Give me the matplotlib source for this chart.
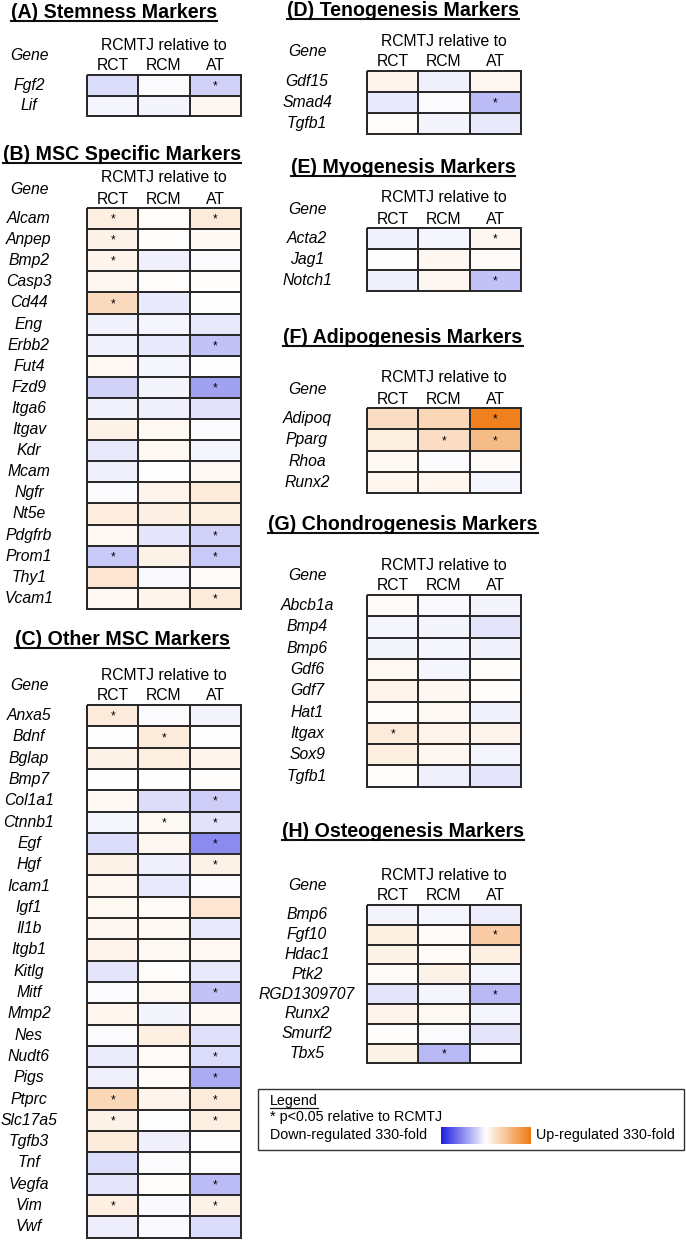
import numpy as np
import matplotlib
matplotlib.use('Agg')
import matplotlib.pyplot as plt
from matplotlib.colors import LinearSegmentedColormap
from matplotlib.patches import Rectangle
from matplotlib.lines import Line2D

plt.rcParams['font.family'] = ['Liberation Sans', 'DejaVu Sans']

W, H = 686, 1241   # 图像像素尺寸
cols = ['RCT', 'RCM', 'AT']

# 数值: -1 = 下调330倍, +1 = 上调330倍 (按颜色估计)
# (A) Stemness
stem_genes = ['Fgf2', 'Lif']
stem_vals = [[-0.16, -0.02, -0.2], [-0.04, -0.05, 0.06]]
stem_sig = [[0, 0, 1], [0, 0, 0]]

# (B) MSC specific
msc_genes = ['Alcam', 'Anpep', 'Bmp2', 'Casp3', 'Cd44', 'Eng', 'Erbb2', 'Fut4', 'Fzd9', 'Itga6',
             'Itgav', 'Kdr', 'Mcam', 'Ngfr', 'Nt5e', 'Pdgfrb', 'Prom1', 'Thy1', 'Vcam1']
msc_vals = [[0.12, 0.02, 0.15], [0.1, 0.01, 0.04], [0.08, -0.07, -0.02], [0.06, 0.01, 0.01],
            [0.28, -0.1, 0.0], [-0.06, -0.04, -0.1], [-0.06, -0.1, -0.27], [0.04, -0.04, 0.0],
            [-0.2, -0.05, -0.42], [-0.06, -0.07, -0.13], [0.1, 0.05, -0.02], [-0.1, 0.05, -0.04],
            [-0.07, 0.0, 0.05], [-0.01, 0.08, 0.15], [0.13, 0.11, 0.12], [0.05, -0.12, -0.2],
            [-0.24, 0.1, -0.24], [0.18, -0.03, 0.03], [0.05, 0.08, 0.15]]
msc_sig = [[1, 0, 1], [1, 0, 0], [1, 0, 0], [0, 0, 0], [1, 0, 0], [0, 0, 0], [0, 0, 1], [0, 0, 0],
           [0, 0, 1], [0, 0, 0], [0, 0, 0], [0, 0, 0], [0, 0, 0], [0, 0, 0], [0, 0, 0], [0, 0, 1],
           [1, 0, 1], [0, 0, 0], [0, 0, 1]]

# (C) Other MSC
oth_genes = ['Anxa5', 'Bdnf', 'Bglap', 'Bmp7', 'Col1a1', 'Ctnnb1', 'Egf', 'Hgf', 'Icam1', 'Igf1',
             'Il1b', 'Itgb1', 'Kitlg', 'Mitf', 'Mmp2', 'Nes', 'Nudt6', 'Pigs', 'Ptprc', 'Slc17a5',
             'Tgfb3', 'Tnf', 'Vegfa', 'Vim', 'Vwf']
oth_vals = [[0.15, -0.02, -0.05], [0.0, 0.15, 0.0], [0.1, 0.12, 0.08], [0.0, 0.0, 0.01],
            [0.04, -0.15, -0.22], [-0.04, 0.05, -0.13], [-0.16, 0.06, -0.52], [0.1, -0.07, 0.1],
            [0.06, -0.1, -0.02], [0.05, 0.03, 0.18], [0.06, 0.05, -0.1], [0.08, 0.05, 0.05],
            [-0.12, 0.01, -0.1], [-0.02, 0.05, -0.27], [0.07, -0.05, 0.04], [-0.02, 0.12, -0.14],
            [-0.09, 0.03, -0.16], [-0.07, 0.03, -0.38], [0.3, 0.08, 0.15], [0.1, 0.0, 0.12],
            [0.15, -0.07, 0.0], [-0.16, -0.02, 0.0], [-0.12, 0.02, -0.3], [0.12, -0.03, 0.1],
            [-0.08, -0.03, -0.16]]
oth_sig = [[1, 0, 0], [0, 1, 0], [0, 0, 0], [0, 0, 0], [0, 0, 1], [0, 1, 1], [0, 0, 1], [0, 0, 1],
           [0, 0, 0], [0, 0, 0], [0, 0, 0], [0, 0, 0], [0, 0, 0], [0, 0, 1], [0, 0, 0], [0, 0, 0],
           [0, 0, 1], [0, 0, 1], [1, 0, 1], [1, 0, 1], [0, 0, 0], [0, 0, 0], [0, 0, 1], [1, 0, 1],
           [0, 0, 0]]

# (D) Tenogenesis
ten_genes = ['Gdf15', 'Smad4', 'Tgfb1']
ten_vals = [[0.08, -0.07, 0.06], [-0.1, -0.02, -0.3], [0.02, -0.05, -0.1]]
ten_sig = [[0, 0, 0], [0, 0, 1], [0, 0, 0]]

# (E) Myogenesis
myo_genes = ['Acta2', 'Jag1', 'Notch1']
myo_vals = [[-0.06, -0.04, 0.06], [0.0, 0.06, 0.03], [-0.07, 0.06, -0.27]]
myo_sig = [[0, 0, 1], [0, 0, 0], [0, 0, 1]]

# (F) Adipogenesis
adi_genes = ['Adipoq', 'Pparg', 'Rhoa', 'Runx2']
adi_vals = [[0.25, 0.3, 0.95], [0.12, 0.25, 0.5], [0.05, -0.02, 0.03], [0.07, 0.07, -0.04]]
adi_sig = [[0, 0, 1], [0, 1, 1], [0, 0, 0], [0, 0, 0]]

# (G) Chondrogenesis
cho_genes = ['Abcb1a', 'Bmp4', 'Bmp6', 'Gdf6', 'Gdf7', 'Hat1', 'Itgax', 'Sox9', 'Tgfb1']
cho_vals = [[0.03, -0.03, -0.05], [-0.04, -0.05, -0.12], [-0.05, -0.04, -0.06], [0.05, -0.04, 0.02],
            [0.08, 0.06, 0.02], [0.02, 0.05, -0.06], [0.15, 0.08, 0.08], [0.12, 0.06, -0.04],
            [0.02, -0.07, -0.12]]
cho_sig = [[0, 0, 0], [0, 0, 0], [0, 0, 0], [0, 0, 0], [0, 0, 0], [0, 0, 0], [1, 0, 0], [0, 0, 0],
           [0, 0, 0]]

# (H) Osteogenesis
ost_genes = ['Bmp6', 'Fgf10', 'Hdac1', 'Ptk2', 'RGD1309707', 'Runx2', 'Smurf2', 'Tbx5']
ost_vals = [[-0.05, -0.04, -0.08], [0.12, 0.03, 0.38], [0.1, 0.03, 0.12], [0.03, 0.1, -0.04],
            [-0.12, -0.04, -0.32], [0.08, 0.05, -0.04], [0.01, -0.02, -0.12], [0.1, -0.32, 0.0]]
ost_sig = [[0, 0, 0], [0, 0, 1], [0, 0, 0], [0, 0, 0], [0, 0, 1], [0, 0, 0], [0, 0, 0], [0, 1, 0]]

cmap = LinearSegmentedColormap.from_list('bwo', ['#1f1fe0', '#ffffff', '#ee7a12'])

fig = plt.figure(figsize=(6.86, 12.41), dpi=100)
titles = []


def panel(gx, gy, rh, lab_cx, title, tcx, tby, genes, vals, sig, cw=51.3):
    n = len(genes)
    ax = fig.add_axes([gx / W, 1 - (gy + n * rh) / H, 3 * cw / W, n * rh / H])
    ax.pcolormesh(np.array(vals), cmap=cmap, vmin=-1, vmax=1,
                  edgecolors='#2a2a2a', linewidth=1.2, clip_on=False)
    ax.set_xlim(0, 3)
    ax.set_ylim(n, 0)
    ax.axis('off')
    lx = -(gx - lab_cx) / cw
    for i, g in enumerate(genes):
        ax.text(lx, i + 0.5, g, style='italic', ha='center', va='center', fontsize=11.3)
        for j in range(3):
            if sig[i][j]:
                ax.text(j + 0.5, i + 0.55, '*', ha='center', va='center', fontsize=8.5)
    ax.text(1.5, -30 / rh, 'RCMTJ relative to', ha='center', va='center', fontsize=11.3)
    for j, c in enumerate(cols):
        ax.text(j + 0.5, -9 / rh, c, ha='center', va='center', fontsize=11.3)
    ax.text(lx, -19 / rh, 'Gene', style='italic', ha='center', va='center', fontsize=11.3)
    t = fig.text(tcx / W, 1 - tby / H, title, fontsize=14.1, fontweight='bold',
                 ha='center', va='baseline')
    titles.append((t, tby))


panel(87, 75, 20.5, 29, '(A) Stemness Markers', 114, 18, stem_genes, stem_vals, stem_sig)
panel(87, 208, 21.1, 29, '(B) MSC Specific Markers', 122, 160, msc_genes, msc_vals, msc_sig)
panel(87, 705, 21.3, 29, '(C) Other MSC Markers', 122, 645, oth_genes, oth_vals, oth_sig)
panel(367, 71, 21.0, 307, '(D) Tenogenesis Markers', 403, 16, ten_genes, ten_vals, ten_sig)
panel(367, 228, 21.0, 307, '(E) Myogenesis Markers', 403, 173, myo_genes, myo_vals, myo_sig)
panel(367, 408, 21.25, 307, '(F) Adipogenesis Markers', 403, 343, adi_genes, adi_vals, adi_sig)
panel(367, 595, 21.3, 307, '(G) Chondrogenesis Markers', 403, 530, cho_genes, cho_vals, cho_sig)
panel(367, 905, 19.8, 307, '(H) Osteogenesis Markers', 403, 837, ost_genes, ost_vals, ost_sig)

# 图例
fig.patches.append(Rectangle((258 / W, 1 - 1150 / H), 426 / W, 61 / H, transform=fig.transFigure,
                             facecolor='none', edgecolor='#333333', linewidth=1.0))
leg = fig.text(270 / W, 1 - 1105 / H, 'Legend', fontsize=10.3, ha='left', va='baseline')
titles.append((leg, 1105))
fig.text(270 / W, 1 - 1117 / H, '* p<0.05 relative to RCMTJ', fontsize=10.3, ha='left', va='center')
fig.text(270 / W, 1 - 1135 / H, 'Down-regulated 330-fold', fontsize=10.3, ha='left', va='center')
fig.text(536 / W, 1 - 1135 / H, 'Up-regulated 330-fold', fontsize=10.3, ha='left', va='center')
cax = fig.add_axes([441 / W, 1 - 1144 / H, 89 / W, 17 / H])
cax.imshow(np.linspace(-1, 1, 256)[None, :], cmap=cmap, vmin=-1, vmax=1, aspect='auto')
cax.set_xticks([])
cax.set_yticks([])
for s in cax.spines.values():
    s.set_visible(False)

# 下划线
fig.canvas.draw()
r = fig.canvas.get_renderer()
for t, by in titles:
    bb = t.get_window_extent(r)
    lw = 1.5 if t is not leg else 0.9
    fig.lines.append(Line2D([bb.x0 / W, bb.x1 / W], [1 - (by + 3) / H] * 2,
                            transform=fig.transFigure, color='#111111', linewidth=lw))

fig.savefig('out.png', dpi=100)
